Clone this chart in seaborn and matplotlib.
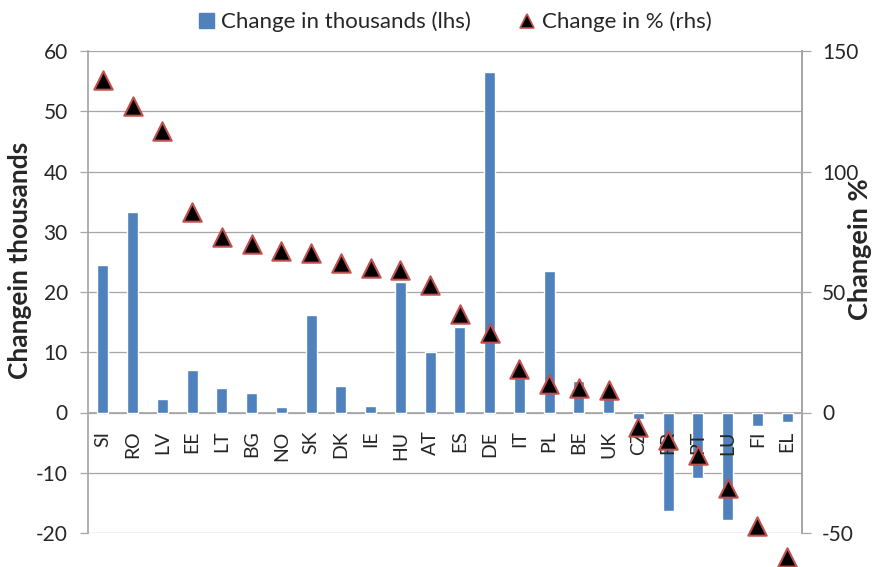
import numpy as np
import pandas as pd
import matplotlib
matplotlib.use("Agg")
import matplotlib.pyplot as plt
import seaborn as sns
from matplotlib.lines import Line2D
from matplotlib.patches import Patch

countries = ["SI", "RO", "LV", "EE", "LT", "BG", "NO", "SK", "DK", "IE", "HU", "AT",
             "ES", "DE", "IT", "PL", "BE", "UK", "CZ", "FR", "PT", "LU", "FI", "EL"]
change_thousands = [24.5, 33.2, 2.3, 7.0, 4.0, 3.2, 0.9, 16.2, 4.4, 1.1, 21.6, 10.0,
                    14.2, 56.5, 5.8, 23.5, 5.2, 2.5, -1.0, -16.4, -10.9, -17.9, -2.2, -1.6]
change_pct = [138, 127, 117, 83, 73, 70, 67, 66, 62, 60, 59, 53,
              41, 33, 18, 12, 10, 9.5, -6, -11.5, -17.5, -31.5, -47, -60]
left_ticks = [-20, -10, 0, 10, 20, 30, 40, 50, 60]
right_ticks = [-50, 0, 50, 100, 150]

df = pd.DataFrame({"country": countries, "thousands": change_thousands, "pct": change_pct})
df["pos"] = np.arange(len(df))

sns.set_theme(style="white")
plt.rcParams["font.family"] = ["Lato", "DejaVu Sans"]
plt.rcParams["axes.unicode_minus"] = False

BLUE = "#4F81BD"
RED = "#C0504D"
GRID = "#A6A6A6"

fig = plt.figure(figsize=(8.72, 5.67), dpi=100)
ax = fig.add_axes([88 / 872, 1 - 533 / 567, 714 / 872, 482 / 567])

sns.barplot(data=df, x="country", y="thousands", order=countries, color=BLUE,
            width=0.37, saturation=1, ax=ax, zorder=2)
ax.set_ylim(-20, 60)
ax.set_xlim(-0.5, len(countries) - 0.5)
ax.set_yticks(left_ticks)
ax.grid(False)
for t in left_ticks:
    ax.axhline(t, color=GRID, linewidth=0.9, zorder=0)
ax.set_axisbelow(False)
ax.set_xlabel("")
ax.set_ylabel("Changein thousands", fontsize=19, fontweight="bold", va="center")
ax.yaxis.set_label_coords(-0.095, 0.566)

ax.spines["top"].set_visible(False)
ax.spines["left"].set_color(GRID)
ax.spines["right"].set_color(GRID)
ax.spines["bottom"].set_color(GRID)
ax.spines["bottom"].set_position(("data", 0))
ax.spines["bottom"].set_zorder(0.5)

ax.set_xticks(np.arange(len(countries)))
ax.set_xticklabels(countries, rotation=90, fontsize=14, va="top")
ax.set_xticks(np.arange(len(countries) + 1) - 0.5, minor=True)
ax.tick_params(axis="x", which="major", length=0, pad=13)
ax.tick_params(axis="x", which="minor", length=7.5, color=GRID, direction="out", width=0.9)
ax.tick_params(axis="y", which="major", length=5.5, color=GRID, direction="out",
               labelsize=15, pad=9, left=True, width=0.9)

ax2 = ax.twinx()
sns.scatterplot(data=df, x="pos", y="pct", marker="^", s=175, color="black",
                edgecolor=RED, linewidth=1.5, ax=ax2, zorder=5, clip_on=False, legend=False)
ax2.set_ylim(-50, 150)
ax2.set_yticks(right_ticks)
ax2.set_xlim(-0.5, len(countries) - 0.5)
ax2.set_ylabel("Changein %", fontsize=19.5, fontweight="bold", rotation=90, va="center")
ax2.yaxis.set_label_coords(1.081, 0.589)
ax2.tick_params(axis="y", which="major", length=6.5, color=GRID, direction="out",
                labelsize=15, pad=8, right=True, width=0.9)
for s in ["top", "bottom", "left"]:
    ax2.spines[s].set_visible(False)
ax2.spines["right"].set_color(GRID)
ax2.grid(False)

handles = [Patch(facecolor=BLUE, edgecolor=BLUE),
           Line2D([], [], marker="^", linestyle="none", markersize=10,
                  markerfacecolor="black", markeredgecolor=RED, markeredgewidth=1.2)]
fig.legend(handles, ["Change in thousands (lhs)", "Change in % (rhs)"],
           loc="center", bbox_to_anchor=(455 / 872, 1 - 22 / 567), ncol=2, frameon=False,
           fontsize=16, handlelength=0.7, handleheight=0.7, handletextpad=0.3,
           columnspacing=2.2, borderpad=0.2)

fig.savefig("out.png", dpi=100)
